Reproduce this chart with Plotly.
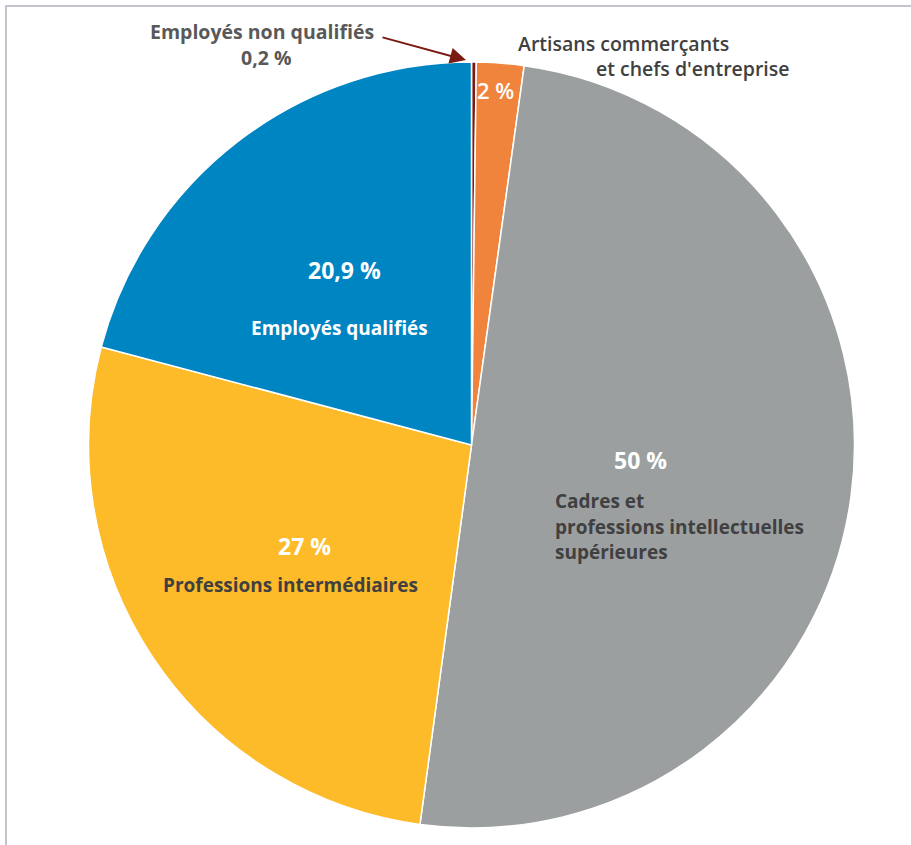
import plotly.graph_objects as go

labels = ["Employés non qualifiés", "Artisans commerçants et chefs d'entreprise",
          "Cadres et professions intellectuelles supérieures",
          "Professions intermédiaires", "Employés qualifiés"]
values = [0.2, 2, 50, 27, 20.9]
colors = ["#7B1A12", "#F0843C", "#9C9FA0", "#FDBB2A", "#0085C3"]

W, H = 911, 845
cx, cy, r = 471.5, 445, 383

fig = go.Figure(go.Pie(
    labels=labels, values=values, sort=False, direction="clockwise", rotation=0,
    marker=dict(colors=colors, line=dict(color="white", width=1.5)),
    textinfo="none", hoverinfo="label+value", showlegend=False,
    domain=dict(x=[(cx - r) / W, (cx + r) / W], y=[(H - cy - r) / H, (H - cy + r) / H]),
))

FONT = "Open Sans"
DARK = "#404040"

def px(x):
    return x / W

def py(y):
    return 1 - y / H

def ann(text, x, y, color, size, xanchor="center", weight=700):
    fig.add_annotation(x=px(x), y=py(y), xref="paper", yref="paper", text=text,
                       showarrow=False, xanchor=xanchor, yanchor="middle",
                       font=dict(family=FONT, size=size, color=color, weight=weight))

ann("20,9 %", 344, 270, "white", 23)
ann("Employés qualifiés", 339, 328, "white", 19)
ann("50 %", 640, 460, "white", 23)
ann("Cadres et", 553, 501, DARK, 19, "left")
ann("professions intellectuelles", 553, 527, DARK, 19, "left")
ann("supérieures", 553, 552, DARK, 19, "left")
ann("27 %", 304, 546, "white", 23)
ann("Professions intermédiaires", 290, 585, DARK, 19)
ann("2 %", 495, 90, "white", 22, weight=600)
ann("Employés non qualifiés", 262, 32, "#595959", 19.5)
ann("0,2 %", 266, 58, "#595959", 19.5)
ann("Artisans commerçants", 516, 44, DARK, 19.5, "left", 600)
ann("et chefs d'entreprise", 594, 68, DARK, 19.5, "left", 600)

fig.add_annotation(x=px(466), y=py(60), xref="paper", yref="paper",
                   ax=-85, ay=-23, axref="pixel", ayref="pixel", text="",
                   showarrow=True, arrowhead=2, arrowsize=1.6, arrowwidth=2,
                   arrowcolor="#7B1A12")

fig.add_shape(type="line", xref="paper", yref="paper", x0=px(5), x1=1.01,
              y0=py(6), y1=py(6), line=dict(color="#C4C4CC", width=2))
fig.add_shape(type="line", xref="paper", yref="paper", x0=px(6), x1=px(6),
              y0=py(5), y1=-0.01, line=dict(color="#C4C4CC", width=2))

fig.update_layout(width=W, height=H, margin=dict(l=0, r=0, t=0, b=0),
                  paper_bgcolor="white", plot_bgcolor="white")
fig.write_html("out.html", config={"displayModeBar": False},
               post_script="document.body.style.margin='0';document.body.style.overflow='hidden';")
